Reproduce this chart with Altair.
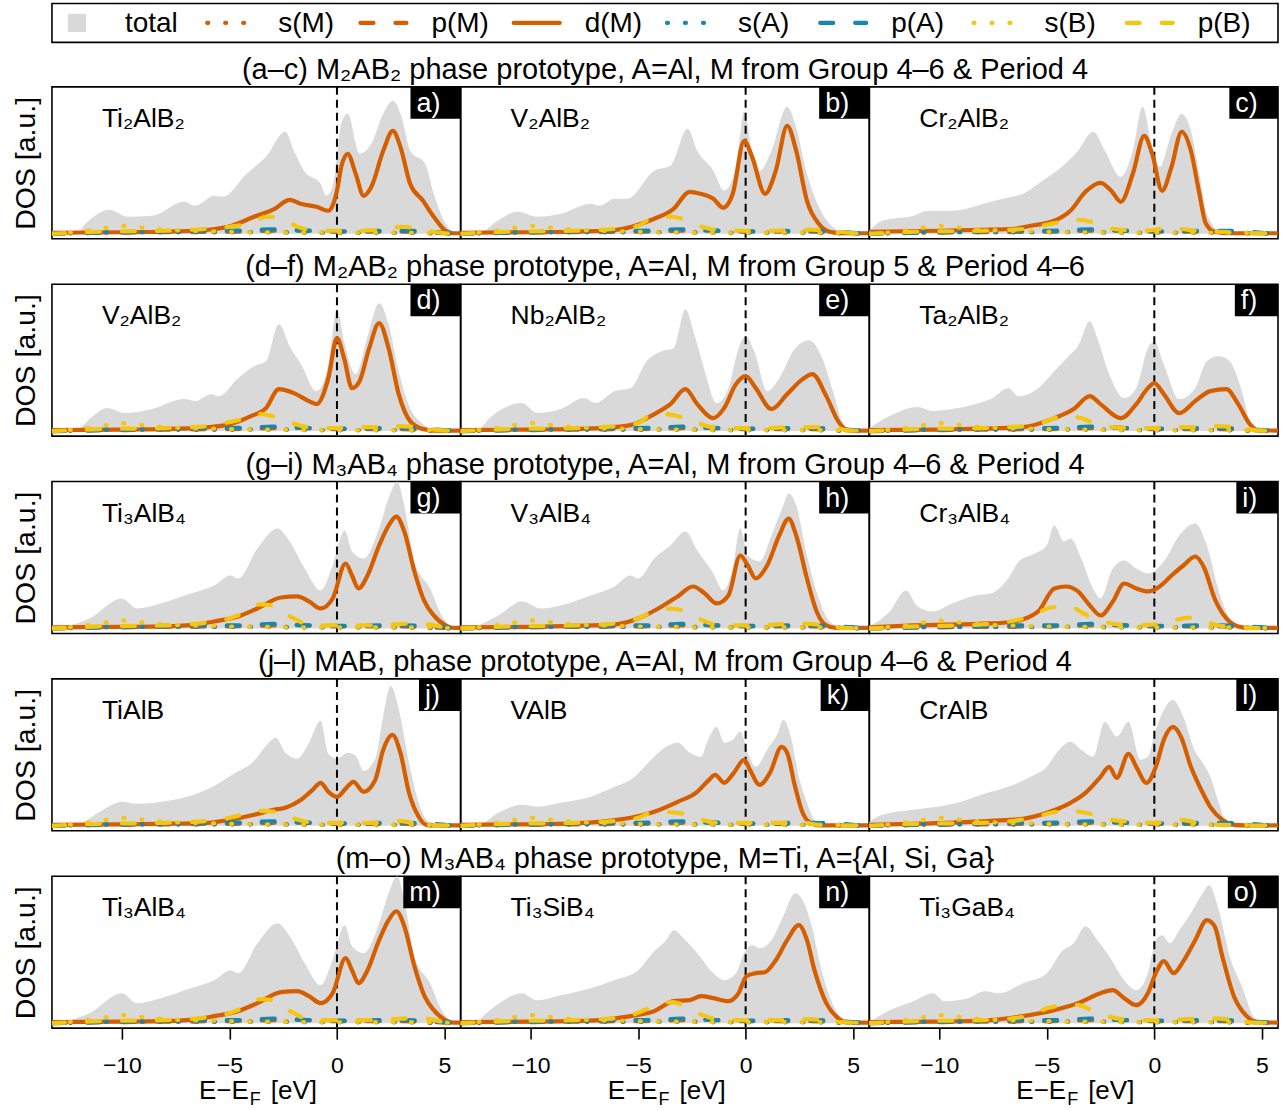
import altair as alt
import pandas as pd

# ---------------- data (energies in eV, DOS in arbitrary units) ----------------
E_GRID = [-13.25, -12, -11, -10, -9, -8, -7, -6, -5, -4, -3, -2, -1, 0, 1, 2, 3, 4, 5, 5.75]
S_M = [0, 0.5, 1, 1.5, 1.5, 1.5, 1.5, 1.5, 1.5, 1.5, 1.5, 1.5, 1, 1, 1, 1, 1, 0.5, 0, 0]
P_M = [0, 0.5, 1, 1, 1.5, 1.5, 1.5, 2, 2, 2.5, 3, 3.5, 2.5, 2, 2, 2, 2, 1.5, 0.5, 0]
S_A = [0, 1, 1.5, 1.5, 1.5, 1.5, 1.5, 1.5, 1.5, 1.5, 1.5, 1, 1, 1, 1, 1, 1, 1, 0.5, 0]
P_A = [0, 0.5, 1, 1.5, 2, 2.5, 3, 3, 3, 3.5, 4.5, 3.5, 3, 2.5, 2.5, 3, 3, 2.5, 1, 0]
S_B = [0, 2, 5, 8, 6, 4, 3, 2.5, 2, 1.5, 1.5, 1, 1, 1, 1, 1, 1, 1, 0.5, 0]

TOT_A = [(-13.25,0),(-12.2,0),(-11.5,14),(-10.6,24),(-9.7,17),(-8.6,18),(-7.1,32),(-6.6,28),(-5.7,38),(-5.3,37),(-4.2,60),(-3.3,77),(-2.4,102),(-2.0,83),(-1.5,62),(-0.76,50),(-0.5,38),(-0.2,47),(0.2,110),(0.5,120),(1.05,80),(1.6,90),(2.15,120),(2.6,133),(3.0,117),(3.4,83),(4.1,70),(4.5,40),(5.05,10),(5.4,2),(5.75,0)]
D_A = [(-13.25,1),(-10,1.5),(-8,2),(-6,4),(-4.9,8),(-3.85,17),(-2.9,25),(-2.2,34),(-1.7,30),(-0.95,27),(-0.4,23),(0,43),(0.2,67),(0.5,80),(0.87,60),(1.24,38),(1.6,47),(2.15,83),(2.6,103),(2.95,87),(3.4,50),(4.0,33),(4.5,17),(5.05,3),(5.4,0.5),(5.75,0.5)]
PB_A = [(-13.25,0),(-11,2),(-8,3),(-6,5),(-5,7),(-4,11),(-3.3,17),(-2.8,17),(-2.3,12),(-1.7,6),(-1,3),(0,3),(1,3),(2,4),(3,7),(3.8,5),(4.8,1),(5.75,0)]

TOT_B = [(-13.25,0),(-12.4,0),(-11.6,12),(-10.6,22),(-9.7,17),(-8.6,20),(-7.2,30),(-6.8,28),(-6.1,35),(-5.5,35),(-4.25,63),(-3.5,68),(-2.7,105),(-2.25,83),(-1.5,63),(-1.0,43),(-0.45,67),(-0.07,122),(0.3,83),(0.65,63),(1.2,83),(1.93,127),(2.3,110),(2.85,60),(3.4,27),(3.9,10),(4.5,2),(5.75,0)]
D_B = [(-13.25,1),(-10,1.5),(-8,2),(-6,4),(-5.3,7),(-4.25,15),(-3.35,25),(-2.6,42),(-2.1,40),(-1.5,35),(-1.05,26),(-0.6,40),(-0.07,93),(0.3,77),(0.9,40),(1.4,63),(1.93,108),(2.35,83),(2.85,33),(3.4,10),(3.9,2),(4.5,0.5),(5.75,0.5)]
PB_B = [(-13.25,0),(-11,2),(-8,3),(-6,5),(-5,8),(-4.3,16),(-3.5,17),(-2.8,14),(-2.3,9),(-1.7,5),(-1,3),(0,3),(1,3),(2,3),(3,4),(4,3),(4.8,1),(5.75,0)]

TOT_C = [(-13.25,3),(-12.65,13),(-11.2,18),(-10.5,23),(-9.4,23),(-7.6,32),(-6.65,37),(-6.1,40),(-5.4,50),(-4.3,67),(-3.55,83),(-2.85,102),(-2.3,83),(-1.56,57),(-1.0,83),(-0.55,127),(-0.1,87),(0.25,67),(0.8,100),(1.27,120),(1.7,103),(2.07,63),(2.4,23),(3.0,3),(3.5,0),(5.75,0)]
D_C = [(-13.25,2),(-10,3),(-8,4),(-6.5,5),(-5.75,8),(-4.65,13),(-3.9,23),(-3.2,42),(-2.5,51),(-2.0,43),(-1.56,32),(-1.0,60),(-0.47,98),(-0.1,80),(0.36,43),(0.8,67),(1.27,102),(1.7,83),(2.07,43),(2.4,10),(2.8,2),(3.5,0.5),(5.75,0.5)]
PB_C = [(-13.25,0),(-11,2),(-8,3),(-6,5),(-5,9),(-4.3,12),(-3.5,14),(-2.8,11),(-2.2,6),(-1.5,4),(-0.5,3),(0.5,5),(1,5),(2,3),(3,2),(4,1),(5.75,0)]

TOT_D = [(-13.25,0),(-12.2,0),(-11.5,12),(-10.7,23),(-9.85,18),(-8.6,22),(-7.1,32),(-6.6,30),(-5.85,37),(-5.5,35),(-4.6,53),(-3.85,65),(-3.3,70),(-2.7,107),(-2.2,85),(-1.67,67),(-0.95,40),(-0.4,67),(0,122),(0.33,90),(0.87,57),(1.4,93),(1.96,128),(2.4,107),(2.87,60),(3.4,23),(4.0,7),(4.5,1),(5.75,0)]
D_D = [(-13.25,1),(-10,1.5),(-8,2),(-6,4),(-4.95,7),(-4.0,15),(-3.3,23),(-2.7,42),(-2.0,38),(-1.3,30),(-0.95,27),(-0.4,53),(0,93),(0.33,73),(0.7,43),(1.05,50),(1.5,83),(1.96,108),(2.4,83),(2.87,37),(3.4,10),(4.0,2),(4.5,0.5),(5.75,0.5)]
PB_D = [(-13.25,0),(-11,2),(-8,3),(-6,5),(-4.8,10),(-4,14),(-3.5,17),(-3,15),(-2.4,11),(-1.8,6),(-1,3),(0,3),(1,4),(2,4),(3,5),(4,3),(4.8,1),(5.75,0)]

TOT_E = [(-13.25,0),(-12.4,2),(-11.9,13),(-10.4,28),(-9.7,18),(-8.6,22),(-7.5,33),(-7.0,28),(-6.1,40),(-5.35,43),(-4.6,70),(-3.9,80),(-3.35,83),(-2.8,122),(-2.36,95),(-1.9,60),(-1.35,28),(-0.8,43),(-0.33,83),(0,95),(0.4,80),(1.0,40),(1.56,53),(2.3,83),(2.95,91),(3.56,73),(4.1,37),(4.47,10),(4.84,1),(5.75,0)]
D_E = [(-13.25,1),(-10,1.5),(-8,2),(-6.8,3),(-5.35,6),(-4.25,17),(-3.5,27),(-2.8,42),(-2.25,27),(-1.5,13),(-1.0,23),(-0.45,47),(0,55),(0.47,43),(1.2,22),(1.93,37),(2.65,52),(3.1,57),(3.75,35),(4.3,10),(4.65,2),(5.0,0.5),(5.75,0.5)]
PB_E = [(-13.25,0),(-11,2),(-8,3),(-6,5),(-5,8),(-4.3,17),(-3.7,17),(-3,14),(-2.4,10),(-1.8,5),(-1,3),(0,3),(1,3),(2,4),(3,4),(4,4),(4.7,1),(5.75,0)]

TOT_F = [(-13.25,3),(-12.3,15),(-11.0,24),(-10.3,20),(-9.4,22),(-8.3,27),(-7.6,32),(-6.8,43),(-6.3,35),(-5.4,43),(-4.65,60),(-3.9,77),(-3.55,85),(-3.0,110),(-2.65,93),(-2.1,57),(-1.4,33),(-0.84,43),(-0.3,83),(0,90),(0.44,67),(1.16,32),(1.9,43),(2.44,70),(3.0,75),(3.5,70),(4.07,40),(4.44,10),(4.8,1),(5.75,0)]
D_F = [(-13.25,1),(-10,1.5),(-8,2.5),(-6.1,4),(-4.65,13),(-3.75,22),(-3.0,35),(-2.5,27),(-1.56,13),(-0.84,27),(-0.3,43),(0,48),(0.44,37),(1.16,18),(1.9,30),(2.6,40),(3.35,42),(3.9,27),(4.44,7),(4.8,1),(5.75,0.5)]
PB_F = [(-13.25,0),(-11,2),(-8,3),(-6,5),(-5,10),(-4.5,14),(-4,15),(-3.4,13),(-2.8,8),(-2,4),(-1,3),(0,3),(1,4),(2,4),(3,5),(4,3),(4.7,1),(5.75,0)]

TOT_G = [(-13.25,0),(-12.6,2),(-11.5,10),(-10.0,30),(-9.3,20),(-8.2,25),(-6.8,35),(-5.7,43),(-4.95,53),(-4.6,50),(-3.7,80),(-2.76,100),(-2.2,87),(-1.5,60),(-0.76,38),(-0.2,63),(0.36,98),(0.7,77),(1.24,70),(1.96,100),(2.4,130),(2.8,147),(3.13,123),(3.6,67),(4.33,40),(4.87,13),(5.3,2),(5.75,0)]
D_G = [(-13.25,1),(-10,1.5),(-8,2),(-6.5,4),(-5.7,7),(-4.6,12),(-3.7,20),(-2.6,31),(-1.85,32),(-1.3,27),(-0.76,20),(-0.2,30),(0.4,65),(0.7,53),(1.0,40),(1.42,53),(1.96,83),(2.4,103),(2.76,112),(3.13,97),(3.6,57),(4.07,27),(4.5,13),(5.05,3),(5.4,0.5),(5.75,0.5)]
PB_G = [(-13.25,0),(-11,2),(-8,3),(-6,6),(-5,10),(-4.3,16),(-3.6,24),(-3,23),(-2.5,16),(-2,10),(-1.5,5),(-0.5,3),(0.5,3),(1.5,3),(2.5,4),(3.5,5),(4.3,4),(5,1),(5.75,0)]

TOT_H = [(-13.25,0),(-12.6,2),(-11.5,13),(-10.4,27),(-9.5,20),(-8.6,23),(-7.2,33),(-6.1,42),(-5.35,53),(-5.0,50),(-4.25,70),(-3.5,83),(-2.8,97),(-2.25,78),(-1.5,55),(-1.05,38),(-0.6,60),(-0.25,100),(0.1,73),(0.65,67),(1.2,93),(1.75,123),(2.0,135),(2.35,123),(2.85,73),(3.4,30),(3.9,7),(4.5,1),(5.75,0)]
D_H = [(-13.25,1),(-10,1.5),(-8,2.5),(-6.1,4),(-5.0,10),(-3.9,22),(-3.16,32),(-2.45,42),(-1.9,35),(-1.35,25),(-0.8,33),(-0.25,73),(0.1,63),(0.47,50),(1.0,63),(1.56,93),(2.0,110),(2.35,93),(2.85,50),(3.3,17),(3.75,3),(4.2,0.5),(5.75,0.5)]
PB_H = [(-13.25,0),(-11,2),(-8,3),(-6,5),(-5,10),(-4.3,17),(-3.7,20),(-3.1,19),(-2.5,14),(-2,8),(-1.4,4),(-0.5,3),(0.5,3),(1.5,4),(2.5,5),(3.3,4),(4,1),(5.75,0)]

TOT_I = [(-13.25,2),(-12.3,17),(-11.55,38),(-11.0,22),(-10.3,17),(-9.4,25),(-8.3,33),(-7.6,35),(-6.8,50),(-6.3,67),(-5.55,75),(-5.0,83),(-4.65,103),(-4.2,87),(-3.9,90),(-3.4,70),(-2.85,40),(-2.5,30),(-1.93,60),(-1.4,68),(-0.84,60),(-0.3,55),(0.44,67),(1.16,93),(1.9,105),(2.44,83),(3.0,37),(3.5,10),(4.07,1),(5.75,0)]
D_I = [(-13.25,1),(-11.2,3),(-7.6,5),(-6.5,7),(-5.4,17),(-4.65,40),(-4.1,42),(-3.55,37),(-3.0,23),(-2.5,13),(-1.93,27),(-1.4,45),(-0.84,40),(-0.3,37),(0.25,42),(0.8,53),(1.35,63),(1.9,72),(2.33,60),(2.8,30),(3.35,10),(3.9,2),(4.4,0.5),(5.75,0.5)]
PB_I = [(-13.25,0),(-11,2),(-8,4),(-6.5,8),(-5.5,14),(-5,20),(-4.3,22),(-3.7,20),(-3.2,14),(-2.5,8),(-2,5),(-1,3),(0,4),(0.7,7),(1.3,10),(1.8,11),(2.4,7),(3,3),(4,1),(5.75,0)]

TOT_J = [(-13.25,0),(-12.2,0),(-11.1,13),(-10.0,24),(-9.3,22),(-7.85,25),(-6.8,30),(-5.7,40),(-4.8,52),(-3.85,65),(-3.3,80),(-2.84,88),(-2.4,73),(-1.85,67),(-1.3,83),(-0.76,105),(-0.4,72),(0,67),(0.5,73),(0.87,70),(1.24,55),(1.78,67),(2.15,110),(2.5,140),(2.87,117),(3.35,63),(3.8,23),(4.2,5),(4.7,0),(5.75,0)]
D_J = [(-13.25,1),(-10,1.5),(-8,2),(-6,3),(-4.95,6),(-3.85,11),(-2.95,16),(-2.4,18),(-1.67,26),(-1.13,36),(-0.76,43),(-0.4,34),(0,29),(0.44,38),(0.76,44),(1.24,34),(1.78,46),(2.15,76),(2.58,91),(2.95,73),(3.35,33),(3.8,9),(4.15,1),(4.6,0.5),(5.75,0.5)]
PB_J = [(-13.25,0),(-11,2),(-8,3),(-6,5),(-5,8),(-4.2,12),(-3.5,15),(-2.9,14),(-2.4,11),(-1.8,6),(-1,3),(0,3),(1,3),(2,3),(2.8,5),(3.5,3),(4.3,1),(5.75,0)]

TOT_K = [(-13.25,0),(-12.4,1),(-11.5,13),(-10.4,21),(-9.7,19),(-8.6,23),(-7.2,29),(-6.1,39),(-5.35,46),(-4.25,69),(-3.7,79),(-3.16,83),(-2.6,73),(-2.07,69),(-1.8,83),(-1.35,99),(-1.0,83),(-0.6,86),(-0.25,94),(0.1,73),(0.47,59),(1.0,76),(1.5,93),(1.75,106),(2.1,89),(2.47,49),(2.85,23),(3.2,6),(3.75,0),(5.75,0)]
D_K = [(-13.25,1),(-10,1.5),(-8,2.5),(-6.8,4),(-5.35,8),(-4.25,14),(-3.16,24),(-2.25,34),(-1.7,46),(-1.42,51),(-1.0,43),(-0.55,53),(-0.07,66),(0.2,56),(0.65,41),(1.13,53),(1.67,79),(1.93,73),(2.3,39),(2.65,13),(3.0,3),(3.4,0.5),(5.75,0.5)]
PB_K = [(-13.25,0),(-11,2),(-8,3),(-6,5),(-5,8),(-4.4,13),(-3.8,14),(-3.2,13),(-2.6,11),(-2,6),(-1.3,3),(0,3),(1,3),(2,3),(2.7,3),(3.4,1),(5.75,0)]

TOT_L = [(-13.25,4),(-12.65,11),(-11.2,16),(-10.1,19),(-9.0,24),(-7.9,32),(-6.8,39),(-5.75,49),(-5.0,59),(-4.5,74),(-3.9,84),(-3.4,76),(-2.85,69),(-2.3,104),(-1.75,89),(-1.2,104),(-0.65,66),(-0.3,69),(0.07,96),(0.44,116),(0.87,126),(1.35,109),(1.9,74),(2.25,63),(2.6,49),(3.0,23),(3.35,3),(3.8,0),(5.75,0)]
D_L = [(-13.25,1),(-11.2,2),(-7.6,5),(-6.1,7),(-5.0,13),(-3.9,23),(-3.2,33),(-2.5,49),(-2.1,59),(-1.75,48),(-1.2,72),(-0.84,59),(-0.36,43),(0.07,59),(0.44,86),(0.87,99),(1.24,89),(1.7,59),(2.18,36),(2.6,19),(3.16,6),(3.7,1),(4.2,0.5),(5.75,0.5)]
PB_L = [(-13.25,0),(-11,2),(-8,3),(-6.5,5),(-5.5,9),(-4.8,13),(-4,15),(-3.2,13),(-2.5,9),(-2,6),(-1,4),(0,3),(0.8,5),(1.3,6),(2,3),(3,1),(5.75,0)]

TOT_M, D_M, PB_M = TOT_G, D_G, PB_G

TOT_N = [(-13.25,0),(-12.6,1),(-11.9,13),(-10.4,30),(-9.7,23),(-8.6,28),(-7.2,35),(-6.1,43),(-5.0,53),(-4.25,72),(-3.7,83),(-3.35,93),(-2.8,83),(-2.25,70),(-1.5,50),(-1.0,43),(-0.45,50),(-0.07,70),(0.3,78),(0.65,75),(1.2,83),(1.75,107),(2.3,130),(2.65,123),(3.0,103),(3.56,50),(4.1,17),(4.55,3),(5.0,0),(5.75,0)]
D_N = [(-13.25,1),(-10,1.5),(-8,2),(-6.8,3),(-5.35,7),(-4.25,12),(-3.35,22),(-2.6,23),(-2.07,27),(-1.5,25),(-0.8,22),(-0.33,30),(0.04,47),(0.47,50),(0.9,51),(1.4,63),(1.93,83),(2.47,98),(2.85,83),(3.2,53),(3.75,20),(4.3,5),(4.65,1),(5.75,0.5)]
PB_N = [(-13.25,0),(-11,2),(-8,3),(-6,5),(-5.3,8),(-4.6,14),(-4,19),(-3.4,21),(-2.9,18),(-2.5,13),(-2,8),(-1.3,4),(0,3),(1,3),(2,3),(3,4),(3.6,3),(4.5,1),(5.75,0)]

TOT_O = [(-13.25,1),(-12.3,13),(-11.2,22),(-10.3,30),(-9.75,22),(-8.65,25),(-7.9,32),(-7.2,30),(-6.1,40),(-5.0,50),(-4.3,72),(-3.75,80),(-3.2,97),(-2.65,83),(-2.1,67),(-1.4,43),(-0.84,33),(-0.3,50),(0.07,83),(0.36,88),(0.73,80),(1.16,93),(1.7,110),(2.25,130),(2.55,138),(3.0,113),(3.5,67),(4.07,37),(4.6,7),(5.0,1),(5.75,0)]
D_O = [(-13.25,1),(-10,1.5),(-7.6,3),(-6.1,7),(-4.65,13),(-3.55,20),(-2.5,30),(-1.93,33),(-1.4,25),(-0.84,18),(-0.3,30),(0.07,50),(0.44,62),(0.9,50),(1.35,62),(1.9,83),(2.44,103),(2.8,97),(3.16,67),(3.7,27),(4.25,8),(4.8,1),(5.75,0.5)]
PB_O = [(-13.25,0),(-11,2),(-8,3),(-6.5,5),(-5.5,10),(-5,15),(-4.5,17),(-4,19),(-3.5,18),(-2.9,13),(-2.3,8),(-1.5,4),(-0.5,3),(0.5,3),(1.5,4),(2.5,5),(3.3,4),(4.2,1),(5.75,0)]

LETTERS = ["a", "b", "c", "d", "e", "f", "g", "h", "i", "j", "k", "l", "m", "n", "o"]
NAMES = ["Ti₂AlB₂", "V₂AlB₂", "Cr₂AlB₂",
         "V₂AlB₂", "Nb₂AlB₂", "Ta₂AlB₂",
         "Ti₃AlB₄", "V₃AlB₄", "Cr₃AlB₄",
         "TiAlB", "VAlB", "CrAlB",
         "Ti₃AlB₄", "Ti₃SiB₄", "Ti₃GaB₄"]
TOTALS = [TOT_A, TOT_B, TOT_C, TOT_D, TOT_E, TOT_F, TOT_G, TOT_H, TOT_I, TOT_J, TOT_K, TOT_L, TOT_M, TOT_N, TOT_O]
DMS = [D_A, D_B, D_C, D_D, D_E, D_F, D_G, D_H, D_I, D_J, D_K, D_L, D_M, D_N, D_O]
PBS = [PB_A, PB_B, PB_C, PB_D, PB_E, PB_F, PB_G, PB_H, PB_I, PB_J, PB_K, PB_L, PB_M, PB_N, PB_O]
ROW_TITLES = [
    "(a–c) M₂AB₂ phase prototype, A=Al, M from Group 4–6 & Period 4",
    "(d–f) M₂AB₂ phase prototype, A=Al, M from Group 5 & Period 4–6",
    "(g–i) M₃AB₄ phase prototype, A=Al, M from Group 4–6 & Period 4",
    "(j–l) MAB, phase prototype, A=Al, M from Group 4–6 & Period 4",
    "(m–o) M₃AB₄ phase prototype, M=Ti, A={Al, Si, Ga}",
]
LEGEND_NAMES = ["total", "s(M)", "p(M)", "d(M)", "s(A)", "p(A)", "s(B)", "p(B)"]
X_TICKS = [-10, -5, 0, 5]

# ---------------- styling ----------------
GREY = "#D9D9D9"
ORANGE = "#D55E00"
BLUE = "#1787B0"
YELLOW = "#F5C510"
DOT = [1, 17]
DASH = [13, 22]
LW = 4.2
STYLES = {
    "s(M)": (ORANGE, DOT), "p(M)": (ORANGE, DASH), "d(M)": (ORANGE, None),
    "s(A)": (BLUE, DOT), "p(A)": (BLUE, DASH),
    "s(B)": (YELLOW, DOT), "p(B)": (YELLOW, DASH),
}
FONT = "Liberation Sans"
W, H = 409, 152
X_DOMAIN = [-13.25, 5.75]
Y_DOMAIN = [-5, 147]
LETTER_W = {"a": 14.5, "b": 14.5, "c": 13, "d": 14.5, "e": 14.5, "f": 7.5, "g": 14.5,
            "h": 14.5, "i": 6, "j": 6, "k": 13, "l": 6, "m": 21.7, "n": 14.5, "o": 14.5}
YTITLE = dict(labels=False, ticks=False, domain=False, grid=False,
              titleFontSize=28.5, titleFontWeight="normal", titlePadding=11.5)


def line_layer(df, X, Y, name):
    color, dash = STYLES[name]
    kw = dict(color=color, strokeWidth=LW, strokeCap="round", interpolate="monotone", clip=True)
    if dash:
        kw["strokeDash"] = dash
    return alt.Chart(df).mark_line(**kw).encode(X, Y)


def make_panel(idx):
    row, col = divmod(idx, 3)
    bottom = row == 4
    xs = alt.Scale(domain=X_DOMAIN, nice=False, zero=False)
    ys = alt.Scale(domain=Y_DOMAIN, nice=False, zero=False)
    if bottom:
        xaxis = alt.Axis(values=X_TICKS, tickSize=11, tickWidth=1.6, tickColor="black",
                         labelFontSize=23, labelPadding=15, labelColor="black",
                         labelFlush=False, labelOverlap=False, domain=False, grid=False, title=None)
    else:
        xaxis = None
    if col == 0:
        yaxis = alt.Axis(title="DOS [a.u.]", titleColor="black", **YTITLE)
    else:
        yaxis = None
    X = alt.X("E:Q", scale=xs, axis=xaxis)
    Y = alt.Y("h:Q", scale=ys, axis=yaxis)

    tot = pd.DataFrame(TOTALS[idx], columns=["E", "h"])
    dm = pd.DataFrame(DMS[idx], columns=["E", "h"])
    pb = pd.DataFrame(PBS[idx], columns=["E", "h"])
    grid = lambda vals: pd.DataFrame({"E": E_GRID, "h": vals})

    layers = [
        alt.Chart(tot).mark_area(color=GREY, interpolate="monotone", clip=True).encode(X, Y),
        alt.Chart(pd.DataFrame({"E": [0.0]})).mark_rule(color="black", strokeWidth=2, strokeDash=[8, 5]).encode(
            alt.X("E:Q", scale=xs, axis=xaxis)),
        line_layer(grid(S_M), X, Y, "s(M)"),
        line_layer(grid(P_M), X, Y, "p(M)"),
        line_layer(dm, X, Y, "d(M)"),
        line_layer(grid(S_A), X, Y, "s(A)"),
        line_layer(grid(P_A), X, Y, "p(A)"),
        line_layer(grid(S_B), X, Y, "s(B)"),
        line_layer(pb, X, Y, "p(B)"),
    ]
    # compound name
    layers.append(alt.Chart(pd.DataFrame({"t": [NAMES[idx]]})).mark_text(
        align="left", baseline="middle", fontSize=26.5, color="black", font=FONT).encode(
        x=alt.value(50), y=alt.value(32), text="t:N"))
    # panel letter box
    letter = LETTERS[idx] + ")"
    bw = LETTER_W[LETTERS[idx]] + 8.7 + 27
    layers.append(alt.Chart(pd.DataFrame({"t": [letter]})).mark_rect(color="black").encode(
        x=alt.value(W - bw), x2=alt.value(W), y=alt.value(0), y2=alt.value(32)))
    layers.append(alt.Chart(pd.DataFrame({"t": [letter]})).mark_text(
        align="left", baseline="middle", fontSize=27, color="white", font=FONT).encode(
        x=alt.value(W - bw + 6), y=alt.value(17), text="t:N"))
    # row title, centred over the row (placed in the middle panel)
    if col == 1:
        layers.append(alt.Chart(pd.DataFrame({"t": [ROW_TITLES[row]]})).mark_text(
            align="center", baseline="middle", fontSize=29, color="black", font=FONT).encode(
            x=alt.value(W / 2), y=alt.value(-17), text="t:N"))
    if bottom:
        layers.append(alt.Chart(pd.DataFrame({"t": ["E−E"]})).mark_text(
            align="right", baseline="alphabetic", fontSize=26, color="black", font=FONT).encode(
            x=alt.value(197), y=alt.value(H + 71), text="t:N"))
        layers.append(alt.Chart(pd.DataFrame({"t": ["F"]})).mark_text(
            align="left", baseline="alphabetic", fontSize=18, color="black", font=FONT).encode(
            x=alt.value(198), y=alt.value(H + 77), text="t:N"))
        layers.append(alt.Chart(pd.DataFrame({"t": ["[eV]"]})).mark_text(
            align="left", baseline="alphabetic", fontSize=26, color="black", font=FONT).encode(
            x=alt.value(219), y=alt.value(H + 71), text="t:N"))
    return alt.layer(*layers).properties(width=W, height=H)


rows = [alt.hconcat(*[make_panel(3 * r + c) for c in range(3)], spacing=0, bounds="flush") for r in range(5)]

# ---------------- legend ----------------
LW_TOTAL = 3 * W
lx = alt.Scale(domain=[0, 8], nice=False, zero=False)
# invisible one-letter y-axis title so the legend box lines up with the panels
ly = alt.Y("yy:Q", scale=alt.Scale(domain=[-1, 1]),
           axis=alt.Axis(title="D", titleOpacity=0, **YTITLE))
leg_layers = [
    alt.Chart(pd.DataFrame({"x": [0.163], "yy": [0.0]})).mark_point(
        shape="square", filled=True, size=330, color=GREY, opacity=1).encode(
        x=alt.X("x:Q", scale=lx, axis=None), y=ly)
]
for i, name in enumerate(LEGEND_NAMES[1:], start=1):
    color, dash = STYLES[name]
    kw = dict(color=color, strokeWidth=LW, strokeCap="round")
    if dash:
        kw["strokeDash"] = dash
    seg = pd.DataFrame({"x": [i + 0.163 - 0.15, i + 0.163 + 0.15], "yy": [0.0, 0.0]})
    leg_layers.append(alt.Chart(seg).mark_line(**kw).encode(
        x=alt.X("x:Q", scale=lx, axis=None), y=ly))
leg_text = pd.DataFrame({"x": [i + 0.476 for i in range(8)], "t": LEGEND_NAMES, "yy": [0.0] * 8})
leg_layers.append(alt.Chart(leg_text).mark_text(
    align="left", baseline="middle", fontSize=28, color="black", font=FONT, dy=1).encode(
    x=alt.X("x:Q", scale=lx, axis=None), y=ly, text="t:N"))
legend = alt.layer(*leg_layers).properties(width=LW_TOTAL, height=39)

chart = alt.ConcatChart(concat=[legend] + rows, columns=1, align="none", spacing=11.5).properties(
    padding={"left": 10, "top": 2, "right": 5, "bottom": 3},
    background="white",
).configure(font=FONT).configure_view(stroke="black", strokeWidth=1.6)

chart.save("out.html", embed_options={"renderer": "svg", "actions": False})
